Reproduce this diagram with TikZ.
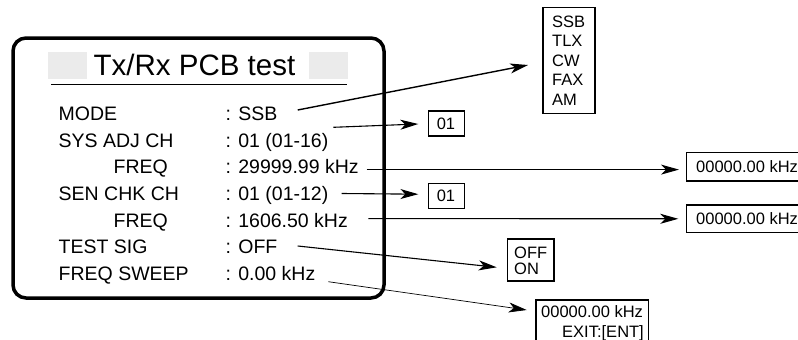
\documentclass[tikz,border=0pt]{standalone}
\usepackage{fontspec}
\setmainfont{Liberation Sans}
\usetikzlibrary{arrows.meta}
\begin{document}
\begin{tikzpicture}[x=1pt,y=-1pt,
  rowtxt/.style={inner sep=0pt, anchor=base west, font=\fontsize{19.5}{22}\selectfont},
  boxtxt/.style={inner sep=0pt, anchor=base west, font=\fontsize{16.5}{19}\selectfont},
  valbox/.style={draw, line width=1.2pt, inner sep=0pt},
  conn/.style={line width=1.1pt, -{Stealth[length=18pt,width=10pt,inset=5pt]}},
]
\useasboundingbox (0,0) rectangle (798,340);
\clip (0,0) rectangle (798,340);

% main panel
\draw[line width=3.5pt, rounded corners=13pt] (13,38) rectangle (384,298);
\fill[black!8] (48.3,52.3) rectangle (86.7,79);
\fill[black!8] (309,52.3) rectangle (348,79);
\node[inner sep=0pt, anchor=base, font=\fontsize{29.5}{32}\selectfont] (title) at (194.5,75) {Tx/Rx PCB test};
\draw[line width=1pt] (51,84.3) -- (347,84.3);

% rows
\node[rowtxt] (l1) at (58.5,120.7) {MODE};
\node[rowtxt] (l2) at (58.5,147.3) {SYS ADJ CH};
\node[rowtxt] (l3) at (113.4,173.9) {FREQ};
\node[rowtxt] (l4) at (58.5,200.5) {SEN CHK CH};
\node[rowtxt] (l5) at (113.4,227.1) {FREQ};
\node[rowtxt] (l6) at (58.5,253.7) {TEST SIG};
\node[rowtxt] (l7) at (58.5,280.3) {FREQ SWEEP};

\node[rowtxt] (v1) at (225.5,120.7) {: SSB};
\node[rowtxt] (v2) at (225.5,147.3) {: 01 (01-16)};
\node[rowtxt] (v3) at (225.5,173.9) {: 29999.99 kHz};
\node[rowtxt] (v4) at (225.5,200.5) {: 01 (01-12)};
\node[rowtxt] (v5) at (225.5,227.1) {: 1606.50 kHz};
\node[rowtxt] (v6) at (225.5,253.7) {: OFF};
\node[rowtxt] (v7) at (225.5,280.3) {: 0.00 kHz};

% value boxes
\node[valbox, minimum width=52pt, minimum height=106pt] (bmode) at (569,60.3) {};
\node[boxtxt] (m1) at (552,27.3) {SSB};
\node[boxtxt] (m2) at (552,46.7) {TLX};
\node[boxtxt] (m3) at (552,66) {CW};
\node[boxtxt] (m4) at (552,85.7) {FAX};
\node[boxtxt] (m5) at (552,105) {AM};

\node[valbox, minimum width=36pt, minimum height=25pt] (bsys) at (446.3,123.5) {};
\node[boxtxt] (t01a) at (436.6,129.4) {01};

\node[valbox, minimum width=123pt, minimum height=28.7pt] (bf1) at (748.3,166.7) {};
\node[boxtxt] (tf1) at (696,172.6) {00000.00 kHz};

\node[valbox, minimum width=36pt, minimum height=25pt] (bsen) at (446.3,195.8) {};
\node[boxtxt] (t01b) at (436.6,201.7) {01};

\node[valbox, minimum width=123pt, minimum height=27.7pt] (bf2) at (748.3,218.8) {};
\node[boxtxt] (tf2) at (696,224.7) {00000.00 kHz};

\node[valbox, minimum width=46.7pt, minimum height=42pt] (bsig) at (530.7,260) {};
\node[boxtxt] (ts1) at (514,258.3) {OFF};
\node[boxtxt] (ts2) at (514,274.3) {ON};

\node[valbox, minimum width=112.3pt, minimum height=60pt] (bsw) at (592.2,330) {};
\node[boxtxt] (tw1) at (541,317.3) {00000.00 kHz};
\node[boxtxt, anchor=base east] (tw2) at (644,337.3) {EXIT:[ENT]};

% connector ends
\coordinate (s1) at (297.7,110);   \coordinate (e1) at (528,65);
\coordinate (s2) at (333.3,127.3); \coordinate (e2) at (418.3,124);
\coordinate (s3) at (366.7,169.6); \coordinate (e3) at (679,169.6);
\coordinate (s4) at (341.7,193.5); \coordinate (e4) at (418.3,194.2);
\coordinate (s5) at (368.3,218.6); \coordinate (e5) at (678.3,218.8);
\coordinate (s6) at (297.7,246);   \coordinate (e6) at (496.7,267.3);
\coordinate (s7) at (328.3,281.7); \coordinate (e7) at (526.7,310);

\draw[conn, line width=1.4pt] (s1) -- (e1);
\draw[conn] (s2) -- (e2);
\draw[conn] (s3) -- (e3);
\draw[conn] (s4) -- (e4);
\draw[conn] (s5) -- (e5);
\draw[conn] (s6) -- (e6);
\draw[conn, line width=0.7pt, -{Stealth[length=18pt,width=10pt,inset=5pt]}] (s7) -- (e7);
\end{tikzpicture}
\end{document}
